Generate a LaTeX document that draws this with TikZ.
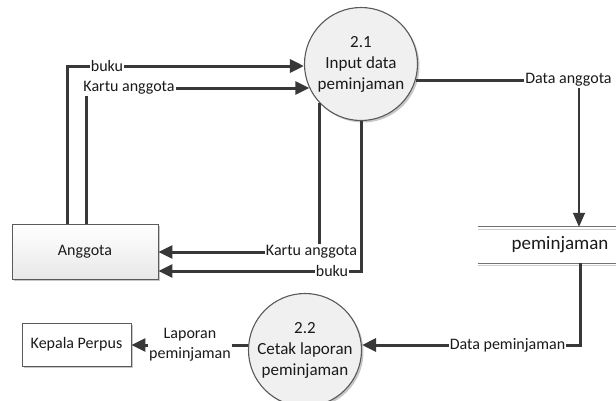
\documentclass[tikz,border=0pt]{standalone}
\usepackage{fontspec}
\setmainfont{Carlito}
\usetikzlibrary{arrows.meta,shadows,calc}
\definecolor{flow}{HTML}{383838}
\definecolor{rim}{HTML}{5A5A5A}
\definecolor{ink}{HTML}{1A1A1A}
\begin{document}
\begin{tikzpicture}[x=1pt,y=-1pt,
  every node/.style={font=\fontsize{16}{19}\selectfont, text=ink},
  softshadow/.style={drop shadow={shadow xshift=2pt, shadow yshift=-2pt, opacity=0.22, fill=black}},
  proc/.style={circle, draw=rim, line width=1.1pt, fill=black!6, minimum size=113pt,
    inner sep=0pt, align=center, font=\fontsize{17}{21}\selectfont, softshadow},
  ent/.style={rectangle, draw=rim, line width=0.9pt, inner sep=0pt, softshadow},
  store/.style={rectangle, inner sep=0pt, minimum width=164pt, minimum height=36pt,
    font=\fontsize{19}{22}\selectfont},
  storeline/.style={draw=black!55, line width=1pt},
  storelight/.style={draw=black!20, line width=1pt},
  lbl/.style={fill=white, inner xsep=1pt, inner ysep=1.5pt},
  flowline/.style={draw=flow, line width=3pt},
  flowarrow/.style={flowline, -{Triangle[length=14pt,width=13pt]}},
  thinarrow/.style={draw=flow, line width=1.5pt, -{Triangle[length=14pt,width=12pt]}},
]
\useasboundingbox[fill=white] (0,0) rectangle (616,400);
\coordinate (rimR) at (616,0);

% processes, entities and the data store
\node[proc] (p21) at (361,64) {2.1\\Input data\\peminjaman};
\node[proc] (p22) at (305,350) {2.2\\Cetak laporan\\peminjaman};
\node[ent, minimum width=146pt, minimum height=55pt, top color=white, bottom color=black!9]
  (ang) at (85,251.5) {Anggota};
\node[ent, minimum width=109pt, minimum height=43pt, fill=white]
  (kp) at (76.5,344.5) {Kepala Perpus};
\node[store] (store) at (560,245) {peminjaman};
\draw[storeline] (store.north west) -- (store.north west -| rimR);
\draw[storelight] ([yshift=-2.5pt]store.north west) -- ([yshift=-2.5pt]store.north west -| rimR);
\draw[storeline] (store.south west) -- (store.south west -| rimR);
\draw[storelight] ([yshift=-2.5pt]store.south west) -- ([yshift=-2.5pt]store.south west -| rimR);

% flow labels
\node[lbl] (lb1) at (107,66) {buku};
\node[lbl] (lk1) at (129,88) {Kartu anggota};
\node[lbl] (lk2) at (311.5,252) {Kartu anggota};
\node[lbl] (lb2) at (332,271) {buku};
\node[lbl] (lda) at (568.5,80) {Data anggota};
\node[lbl] (ldp) at (507.5,345) {Data peminjaman};
\node[lbl, align=center, font=\fontsize{16}{20}\selectfont] (llp) at (190,345) {Laporan\\peminjaman};

% Anggota -> 2.1
\coordinate (ang1) at ($(ang.north)+(-18,0)$);
\coordinate (ang2) at ($(ang.north)+(1,0)$);
\draw[flowline] (ang1) |- (lb1.west);
\draw[flowarrow] (lb1.east) -- (lb1.east -| p21.west);
\draw[flowline] (ang2) -- (ang2 |- lk1.south);
\draw[flowarrow] (lk1.east) -- (lk1.east -| p21.205);

% 2.1 -> Anggota
\draw[flowline] (p21.223) -- (p21.223 |- lk2.north);
\draw[flowarrow] (lk2.west) -- (lk2.west -| ang.east);
\draw[flowline] (p21.south) |- (lb2.east);
\draw[flowarrow] (lb2.west) -- (lb2.west -| ang.east);

% 2.1 -> peminjaman
\draw[flowline] (lda.west -| p21.-17) -- (lda.west);
\coordinate (da) at ($(lda.south)+(10.5,0)$);
\draw[thinarrow] (da) -- (da |- store.north);

% peminjaman -> 2.2
\coordinate (dp) at ($(store.south)+(20,0)$);
\draw[flowline] (dp) |- (ldp.east);
\draw[flowarrow] (ldp.west) -- (ldp.west -| p22.east);

% 2.2 -> Kepala Perpus
\draw[flowline] (llp.east -| p22.west) -- (llp.east);
\draw[flowarrow] (llp.west) -- (llp.west -| kp.east);
\end{tikzpicture}
\end{document}
